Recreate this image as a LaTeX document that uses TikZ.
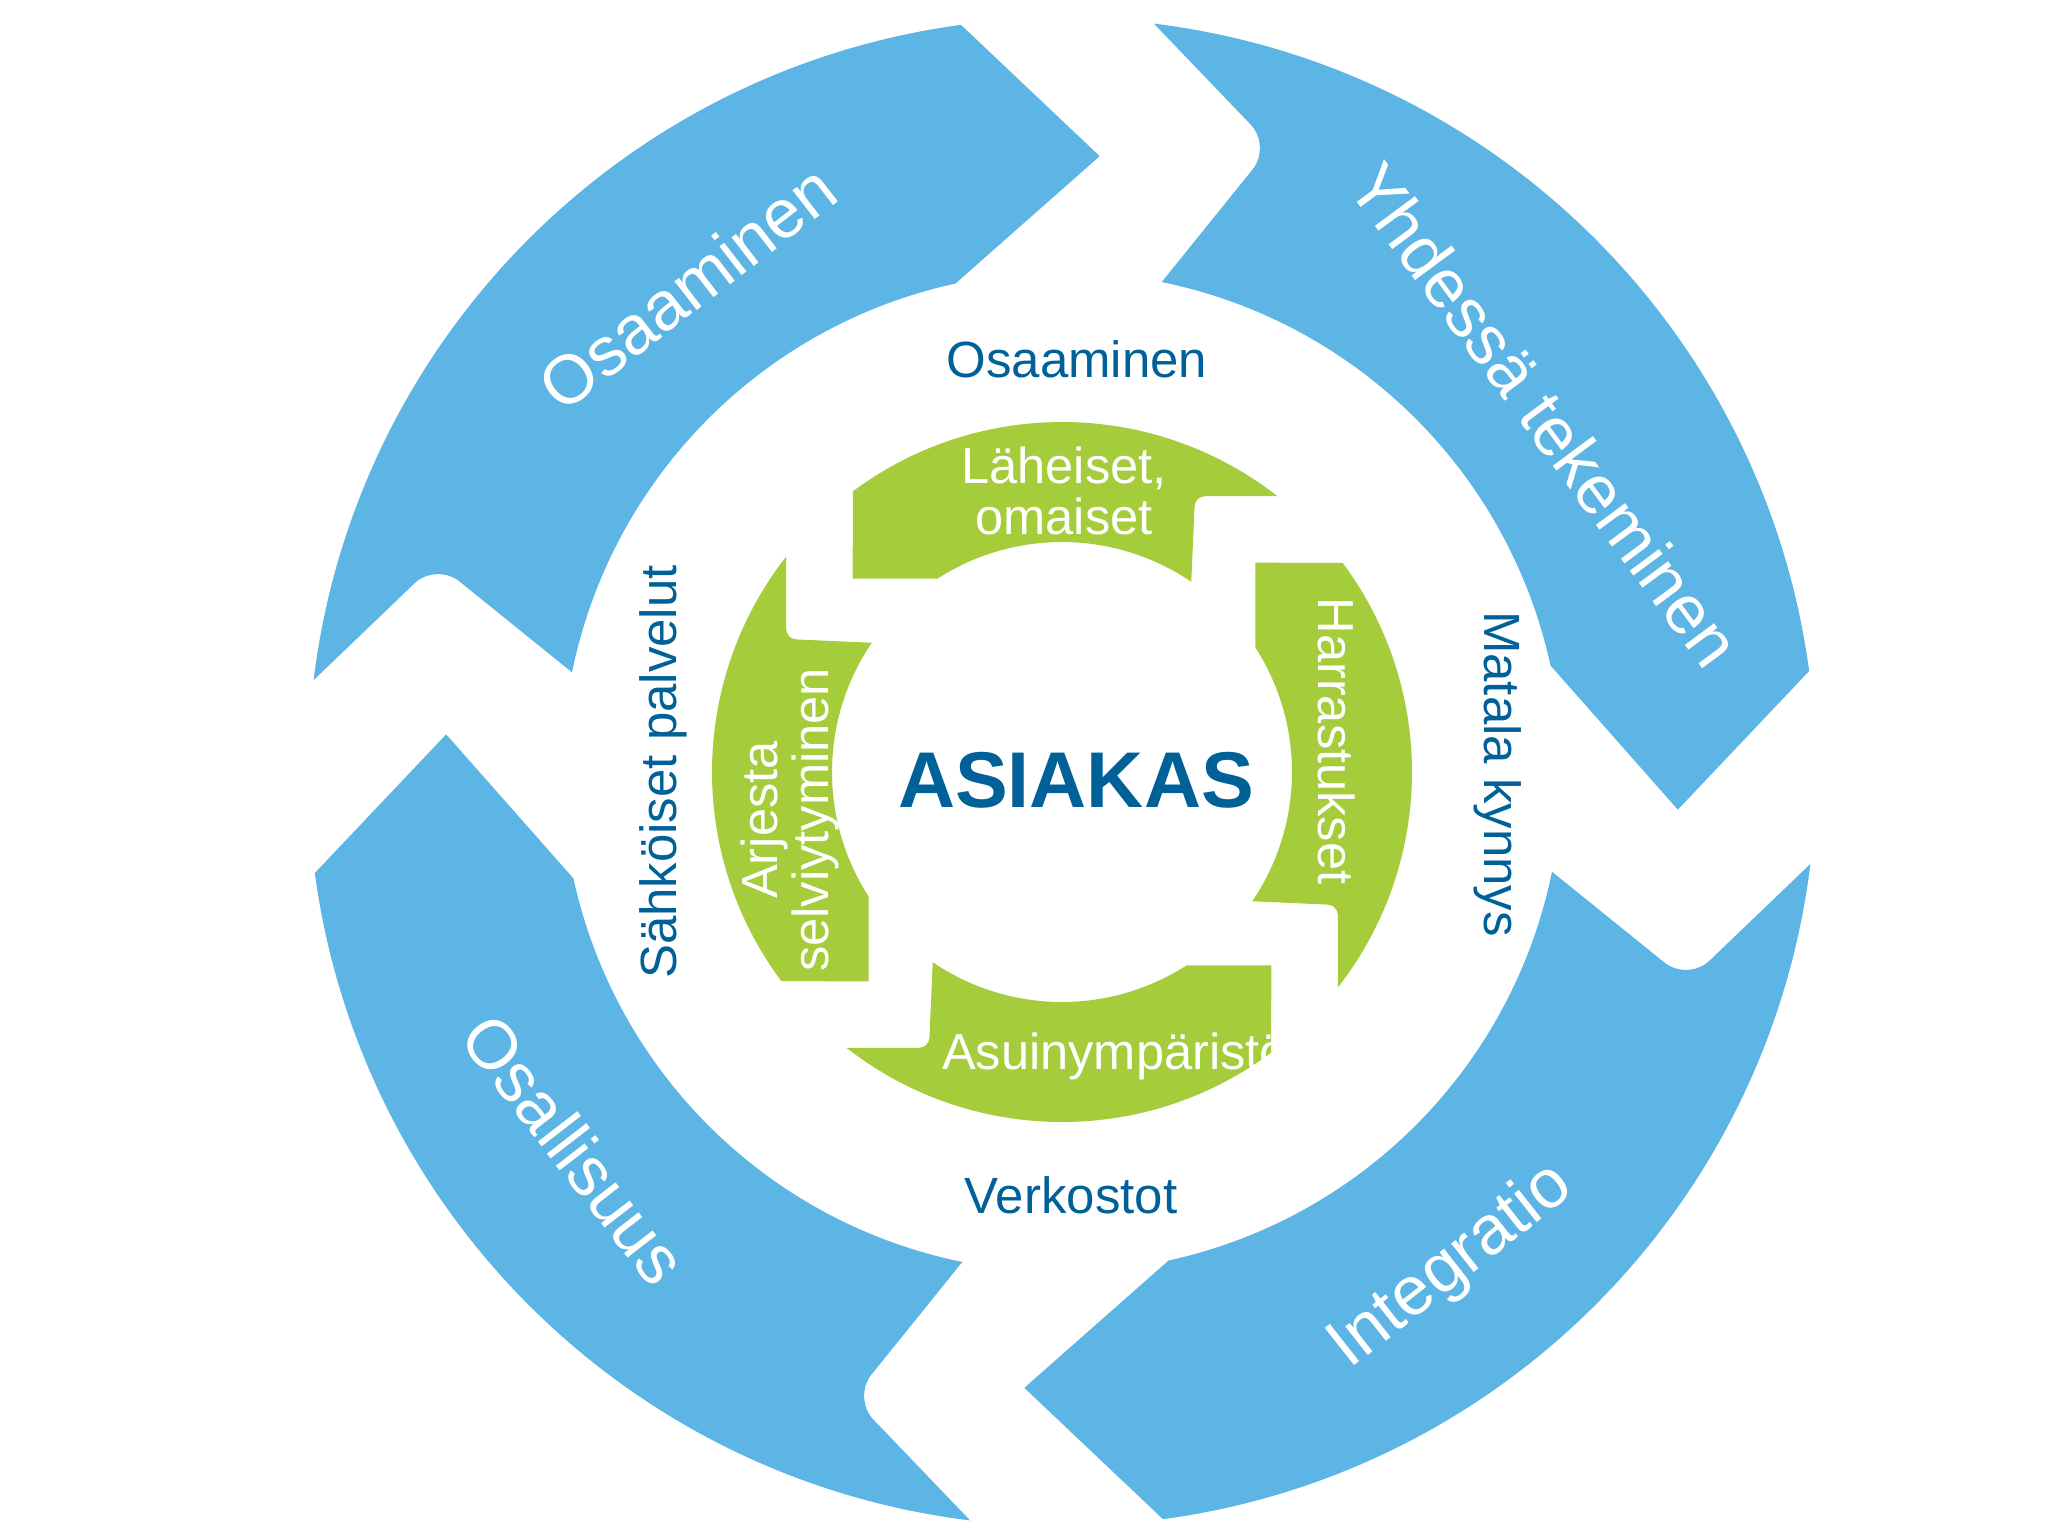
\documentclass[tikz,border=0pt]{standalone}
\usepackage{fontspec}
\setmainfont{Liberation Sans}
\definecolor{ringblue}{RGB}{92,181,229}
\definecolor{leafgreen}{RGB}{165,204,58}
\definecolor{textblue}{RGB}{0,96,152}
\tikzset{
  bluearrow/.style={fill=ringblue},
  greenarrow/.style={fill=leafgreen},
  outerlabel/.style={text=white, font=\fontsize{19.6}{24}\selectfont},
  ringlabel/.style={text=textblue, font=\fontsize{14.5}{17}\selectfont},
  innerlabel/.style={text=white, align=center, font=\fontsize{14.4}{14.4}\selectfont},
  centerlabel/.style={text=textblue, font=\fontsize{22.5}{26}\selectfont\bfseries}
}

\begin{document}
\begin{tikzpicture}[x=0.1mm, y=0.1mm]
  \useasboundingbox (-1062,-764) rectangle (986,772);
  % Outer ring
  \foreach \r in {0,-90,-180,-270} {
    \fill[bluearrow, rotate=\r] (102.3:500) arc[start angle=102.3, end angle=168.5, radius=500]
      [rounded corners=3mm] -- (161.5:660) [sharp corners] -- (173:754)
      arc[start angle=173, end angle=97.7, radius=754] -- (86.5:617) -- cycle;
  }
  \node[outerlabel, rotate=37.7] (osaaminen) at (127.7:613) {Osaaminen};
  \node[outerlabel, rotate=-53.5] (yhdessa) at (36.5:601) {Yhdessä tekeminen};
  \node[outerlabel, rotate=38.2] (integratio) at (-51.8:630) {Integratio};
  \node[outerlabel, rotate=-52.3] (osallisuus) at (-142.3:616) {Osallisuus};

  % Inner ring
  \foreach \r in {0,-90,-180,-270} {
    \fill[greenarrow, rotate=\r] (126.7:350) arc[start angle=126.7, end angle=52, radius=350]
      [rounded corners=1mm] -- (133,275.8) [sharp corners] -- (55.8:230)
      arc[start angle=55.8, end angle=122.8, radius=230] -- (-209.3,193.3) -- cycle;
  }
  \node[innerlabel] (laheiset) at (2,281) {Läheiset,\\omaiset};
  \node[innerlabel, rotate=-90] (harrastukset) at (275,31) {Harrastukset};
  \node[innerlabel] (asuin) at (53,-284) {Asuinympäristö};
  \node[innerlabel, rotate=90] (arjesta) at (-272,-48) {Arjesta\\selviytyminen};

  % Between the rings
  \node[ringlabel] (osaaminen2) at (15,413) {Osaaminen};
  \node[ringlabel, rotate=-90] (matala) at (436,-2) {Matala kynnys};
  \node[ringlabel] (verkostot) at (9,-423) {Verkostot};
  \node[ringlabel, rotate=90] (sahkoiset) at (-399,0) {Sähköiset palvelut};

  \node[centerlabel] (asiakas) at (14,-8) {ASIAKAS};
\end{tikzpicture}
\end{document}
